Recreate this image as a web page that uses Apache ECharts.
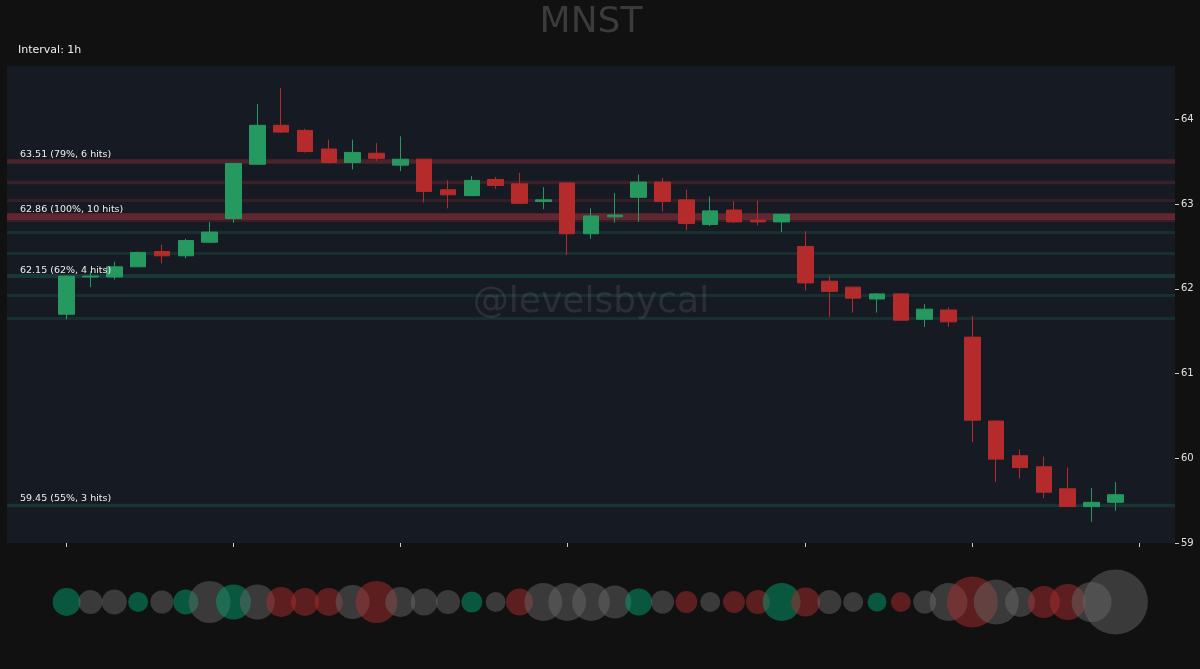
<!DOCTYPE html>
<html><head><meta charset="utf-8">
<script src="https://cdn.jsdelivr.net/npm/echarts@6/dist/echarts.min.js"></script>
<style>html,body{margin:0;padding:0;background:#111111;}#c{width:1200px;height:669px;}</style>
</head><body><div id="c"></div>
<script>
const ticker = 'MNST';
const intervalLabel = 'Interval: 1h';
const watermark = '@levelsbycal';

// hourly candles (45)
const opens  = [61.70,62.14,62.14,62.26,62.44,62.39,62.55,62.83,63.47,63.93,63.87,63.65,63.49,63.60,63.46,63.53,63.17,63.10,63.29,63.24,63.03,63.25,62.65,62.85,63.08,63.26,63.05,62.76,62.93,62.81,62.79,62.50,62.09,62.02,61.88,61.94,61.64,61.75,61.43,60.44,60.03,59.90,59.64,59.43,59.48];
const closes = [62.15,62.15,62.26,62.43,62.39,62.57,62.67,63.48,63.93,63.85,63.62,63.49,63.61,63.54,63.53,63.15,63.11,63.28,63.22,63.01,63.05,62.65,62.86,62.87,63.26,63.03,62.77,62.92,62.79,62.79,62.88,62.07,61.97,61.89,61.94,61.63,61.76,61.61,60.45,59.99,59.89,59.60,59.43,59.48,59.57];
const lows   = [61.64,62.02,62.11,62.26,62.30,62.36,62.54,62.78,63.47,63.84,63.61,63.48,63.41,63.51,63.39,63.02,62.95,63.10,63.18,63.01,62.94,62.40,62.59,62.78,62.79,62.91,62.69,62.74,62.78,62.75,62.67,61.98,61.67,61.72,61.72,61.63,61.55,61.55,60.19,59.72,59.76,59.53,59.43,59.25,59.38];
const highs  = [62.16,62.21,62.32,62.44,62.52,62.59,62.79,63.48,64.18,64.37,63.89,63.76,63.76,63.72,63.80,63.53,63.28,63.33,63.32,63.37,63.20,63.25,62.95,63.13,63.35,63.31,63.17,63.09,63.03,63.04,62.88,62.68,62.15,62.02,61.95,61.94,61.82,61.78,61.68,60.44,60.10,60.02,59.89,59.65,59.72];

// relative volume per candle (bubble row) and its colour class
const volumes = [78,58,63,40,53,63,176,123,123,90,78,78,116,176,90,73,58,44,40,73,144,144,144,109,73,53,48,40,48,58,144,84,58,40,36,40,53,144,260,203,90,102,130,160,423];
const volKind = ['up','flat','flat','up','flat','up','flat','up','flat','down','down','down','flat','down','flat','flat','flat','up','flat','down','flat','flat','flat','flat','up','flat','down','flat','down','down','up','down','flat','flat','up','down','flat','flat','down','flat','flat','down','down','flat','flat'];

// support / resistance levels
const levelPrices = [63.51,63.26,63.04,62.86,62.81,62.67,62.42,62.15,61.93,61.65,59.45];
const levelKind   = ['res','res','res','res','res','sup','sup','sup','sup','sup','sup'];
const levelHits   = [6,3,2,10,2,2,2,4,2,2,3];
const levelPct    = [79,null,null,100,null,null,null,62,null,null,55];

const yTicks = [59,60,61,62,63,64];
const dayStartIdx = [0,7,14,21,31,38,45];

const PAD = 2;
const N = opens.length;
const GL = 7, GR = 25, GT = 66, GB = 126;
const cats = [];
for (let i = -PAD; i < N + PAD; i++) cats.push(String(i));
const candleData = cats.map((c, k) => {
  const i = k - PAD;
  return (i >= 0 && i < N) ? [opens[i], closes[i], lows[i], highs[i]] : ['-', '-', '-', '-'];
});
const tickSet = new Set(dayStartIdx.map(i => i + PAD));
const bubbleData = volumes.map((v, i) => [i + PAD, 0.5, v, volKind[i]]);
const kindColor = {up: 'rgba(0,160,110,0.62)', down: 'rgba(170,45,45,0.62)', flat: 'rgba(105,105,105,0.58)'};

const FONT = 'DejaVu Sans';
const chart = echarts.init(document.getElementById('c'));
const plotCx = GL + (1200 - GL - GR) / 2;
const plotCy = GT + (669 - GT - GB) / 2;

const levelLines = levelPrices.map((p, i) => {
  const a = (0.1 + 0.028 * levelHits[i]).toFixed(3);
  const col = levelKind[i] === 'res' ? `rgba(220,60,70,${a})` : `rgba(38,166,120,${a})`;
  return {yAxis: p, lineStyle: {color: col, width: 2 + 0.45 * levelHits[i], type: 'solid'}, label: {show: false}};
});
const levelLabels = levelPrices.map((p, i) => ({
  yAxis: p,
  lineStyle: {color: 'rgba(0,0,0,0)', width: 1},
  label: {show: true, position: 'insideStartTop', distance: [13, 1],
    formatter: `${p.toFixed(2)} (${levelPct[i]}%, ${levelHits[i]} hits)`,
    color: '#eeeeee', fontSize: 9.5, fontFamily: FONT}
})).filter((d, i) => levelPct[i] !== null);

chart.setOption({
  animation: false,
  backgroundColor: '#111111',
  textStyle: {fontFamily: FONT},
  graphic: [
    {type: 'text', x: plotCx, y: 23, z: 5, style: {text: ticker, fill: '#3b3b3b', font: '36px "DejaVu Sans"', align: 'center', verticalAlign: 'middle'}},
    {type: 'text', x: 18, y: 50.5, z: 5, style: {text: intervalLabel, fill: '#eeeeee', font: '11px "DejaVu Sans"', align: 'left', verticalAlign: 'middle'}},
    {type: 'text', x: plotCx, y: plotCy - 2, z: 1, silent: true, style: {text: watermark, fill: 'rgba(255,255,255,0.09)', font: '36px "DejaVu Sans"', align: 'center', verticalAlign: 'middle'}}
  ],
  grid: [
    {left: GL, right: GR, top: GT, bottom: GB, show: true, backgroundColor: '#161a23', borderWidth: 0},
    {left: GL, right: GR, top: 570, height: 64}
  ],
  xAxis: [
    {type: 'category', gridIndex: 0, data: cats, boundaryGap: true,
     axisLine: {show: false}, axisLabel: {show: false}, splitLine: {show: false},
     axisTick: {show: true, alignWithLabel: true, interval: (idx) => tickSet.has(idx), length: 4, lineStyle: {color: '#cccccc', width: 1}}},
    {type: 'category', gridIndex: 1, data: cats, boundaryGap: true, show: false}
  ],
  yAxis: [
    {type: 'value', gridIndex: 0, position: 'right', min: 59, max: 64.63, interval: 1,
     axisLine: {show: false}, splitLine: {show: false},
     axisTick: {show: true, length: 4, customValues: yTicks, lineStyle: {color: '#cccccc'}},
     axisLabel: {color: '#e0e0e0', fontSize: 10, margin: 6, fontFamily: FONT, customValues: yTicks,
       formatter: v => String(v)}},
    {type: 'value', gridIndex: 1, min: 0, max: 1, show: false}
  ],
  series: [
    {type: 'line', xAxisIndex: 0, yAxisIndex: 0, data: [], z: 1, silent: true,
     markLine: {silent: true, z: 1, symbol: ['none', 'none'], animation: false, data: levelLines}},
    {type: 'candlestick', xAxisIndex: 0, yAxisIndex: 0, z: 3, barWidth: 16, data: candleData,
     itemStyle: {color: '#25995f', color0: '#b52b2b', borderColor: '#25995f', borderColor0: '#b52b2b', borderWidth: 1}},
    {type: 'line', xAxisIndex: 0, yAxisIndex: 0, data: [], z: 6, silent: true,
     markLine: {silent: true, z: 6, symbol: ['none', 'none'], animation: false, data: levelLabels}},
    {type: 'scatter', xAxisIndex: 1, yAxisIndex: 1, data: bubbleData,
     symbolSize: v => Math.sqrt(v[2] * 10),
     itemStyle: {color: p => kindColor[p.data[3]]}}
  ]
});
</script></body></html>
